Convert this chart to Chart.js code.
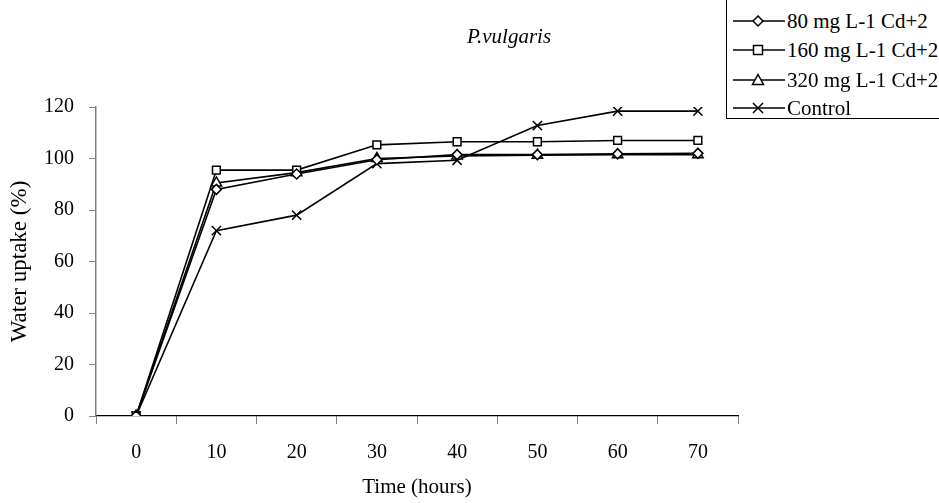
<!DOCTYPE html>
<html>
<head>
<meta charset="utf-8">
<script src="https://cdn.jsdelivr.net/npm/chart.js@4"></script>
<style>
  html, body { margin:0; padding:0; background:#fff; }
  #wrap { position:relative; width:939px; height:503px; overflow:hidden; font-family:"Liberation Serif","Times New Roman",serif; }
  #c { position:absolute; left:0; top:0; }
  #title { position:absolute; left:409px; width:200px; top:23px; text-align:center; font-style:italic; font-size:21px; line-height:26px; color:#000; }
  #legend { position:absolute; left:726px; top:-1px; width:240px; height:120px; border:1px solid #000; box-sizing:border-box; background:#fff; }
  .li { position:absolute; left:6px; height:26px; display:flex; align-items:center; font-size:21px; color:#000; white-space:nowrap; }
  .li svg { margin-right:2px; }
</style>
</head>
<body>
<div id="wrap">
  <canvas id="c" width="939" height="503"></canvas>
  <div id="title">P.vulgaris</div>
  <div id="legend"></div>
</div>
<script>
const categories = ["0","10","20","30","40","50","60","70"];
const seriesNames = ["80 mg L-1 Cd+2","160 mg L-1 Cd+2","320 mg L-1 Cd+2","Control"];
const s80 = [0, 88, 94, 99.5, 101.5, 101.5, 101.8, 102];
const s160 = [0, 95.5, 95.5, 105.3, 106.5, 106.5, 107, 107];
const s320 = [0, 90.5, 94.5, 100, 101, 101.3, 101.5, 101.5];
const sControl = [0, 72, 78, 98, 99.3, 112.8, 118.4, 118.4];
const yTicks = [0, 20, 40, 60, 80, 100, 120];

const styles = [
  {pointStyle:'rectRot', radius:5},
  {pointStyle:'rect', radius:5.5},
  {pointStyle:'triangle', radius:6},
  {pointStyle:'crossRot', radius:6.5}
];
const values = [s80, s160, s320, sControl];

const datasets = values.map((v,i)=>({
  label: seriesNames[i],
  data: v,
  borderColor:'#000',
  borderWidth:1.6,
  backgroundColor:'#fff',
  pointStyle: styles[i].pointStyle,
  pointRadius: styles[i].radius,
  pointBorderColor:'#000',
  pointBackgroundColor:'#fff',
  pointBorderWidth:1.5,
  tension:0,
  fill:false
}));

const fam = "'Liberation Serif','Times New Roman',serif";

new Chart(document.getElementById('c'), {
  type:'line',
  data:{labels:categories, datasets:datasets},
  options:{
    responsive:false,
    animation:false,
    devicePixelRatio:1,
    layout:{padding:{top:107, right:201, left:0, bottom:0}},
    plugins:{legend:{display:false}, title:{display:false}, tooltip:{enabled:false}},
    scales:{
      x:{
        type:'category',
        offset:true,
        grid:{offset:true, drawOnChartArea:false, drawTicks:true, tickLength:8, color:'#808080', lineWidth:1},
        border:{display:true, color:'#000', width:1.2},
        ticks:{color:'#000', font:{family:fam, size:20}, padding:17, maxRotation:0},
        title:{display:true, text:'Time (hours)', color:'#000', font:{family:fam, size:21}, padding:{top:0,bottom:3}},
        afterFit:(s)=>{ s.height = 87; }
      },
      y:{
        min:0, max:120,
        afterBuildTicks:(s)=>{ s.ticks = yTicks.map(v=>({value:v})); },
        grid:{drawOnChartArea:false, drawTicks:true, tickLength:7, color:'#808080', lineWidth:1},
        border:{display:true, color:'#808080', width:1.5},
        ticks:{color:'#000', font:{family:fam, size:20}, padding:15},
        title:{display:true, text:'Water uptake (%)', color:'#000', font:{family:fam, size:23}, padding:{top:6,bottom:0}},
        afterFit:(s)=>{ s.width = 96; }
      }
    }
  }
});

// HTML legend
const legend = document.getElementById('legend');
const markerSvg = (i)=>{
  const cx=25, cy=8;
  let m='';
  if(i===0) m=`<polygon points="${cx},${cy-5} ${cx+5},${cy} ${cx},${cy+5} ${cx-5},${cy}" fill="#fff" stroke="#000" stroke-width="1.5"/>`;
  if(i===1) m=`<rect x="${cx-4.5}" y="${cy-4.5}" width="9" height="9" fill="#fff" stroke="#000" stroke-width="1.5"/>`;
  if(i===2) m=`<polygon points="${cx},${cy-5.5} ${cx+5.5},${cy+4.5} ${cx-5.5},${cy+4.5}" fill="#fff" stroke="#000" stroke-width="1.5"/>`;
  if(i===3) m=`<path d="M${cx-5},${cy-5}L${cx+5},${cy+5}M${cx+5},${cy-5}L${cx-5},${cy+5}" stroke="#000" stroke-width="1.5"/>`;
  return `<svg width="52" height="16" viewBox="0 0 52 16"><line x1="0" y1="8" x2="52" y2="8" stroke="#000" stroke-width="1.6"/>${m}</svg>`;
};
const tops = [8, 37, 67, 95];
seriesNames.forEach((n,i)=>{
  const d=document.createElement('div');
  d.className='li';
  d.style.top = tops[i]+'px';
  d.innerHTML = markerSvg(i)+'<span>'+n+'</span>';
  legend.appendChild(d);
});
</script>
</body>
</html>
